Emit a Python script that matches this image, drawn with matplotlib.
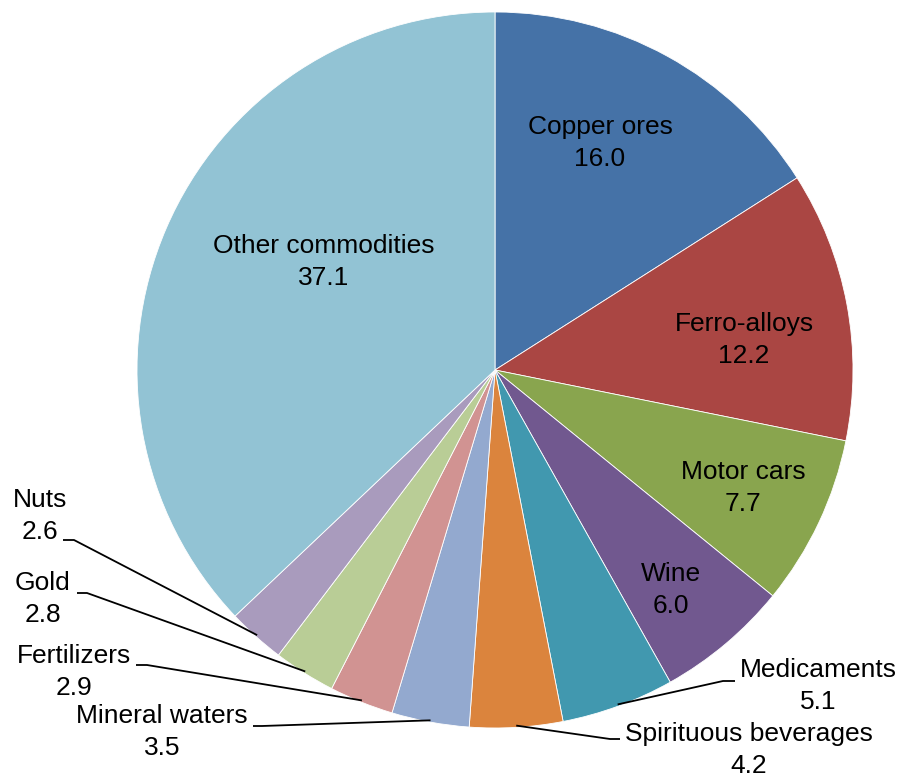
import numpy as np
import matplotlib.pyplot as plt

categories = ['Copper ores', 'Ferro-alloys', 'Motor cars', 'Wine', 'Medicaments',
              'Spirituous beverages', 'Mineral waters', 'Fertilizers', 'Gold',
              'Nuts', 'Other commodities']
shares = [16.0, 12.2, 7.7, 6.0, 5.1, 4.2, 3.5, 2.9, 2.8, 2.6, 37.1]
colors = ['#4572A7', '#AA4643', '#89A54E', '#71588F', '#4198AF', '#DB843D',
          '#93A9CF', '#D19392', '#B9CD96', '#A99BBD', '#92C3D4']

W, H = 899, 776
CX, CY, R = 495, 370, 358


def px(x, y):
    # pixel position in the picture -> data coords of the pie axes
    return (x - CX) / R, (CY - y) / R


plt.rcParams['font.family'] = ['Liberation Sans', 'DejaVu Sans']

fig = plt.figure(figsize=(W / 100, H / 100), dpi=100)
ax = fig.add_axes([0, 0, 1, 1])
wedges, _ = ax.pie(shares, colors=colors, startangle=90, counterclock=False,
                   radius=1, wedgeprops=dict(edgecolor='white', linewidth=0.6))
ax.set_xlim(px(0, 0)[0], px(W, 0)[0])
ax.set_ylim(px(0, H)[1], px(0, 0)[1])
ax.axis('off')

fs = 19
# labels inside the slices (pixel centre of the text block)
inside = {'Copper ores': (600, 143), 'Ferro-alloys': (744, 340),
          'Motor cars': (743, 488), 'Wine': (671, 590),
          'Other commodities': (324, 262)}
# labels outside: text centre, then the short horizontal piece of the leader
outside = {'Nuts': ((40, 516), (63, 540), (74, 540)),
           'Gold': ((43, 599), (77, 593), (87, 593)),
           'Fertilizers': ((74, 672), (136, 665), (147, 665)),
           'Mineral waters': ((162, 732), (253, 726), (262, 726)),
           'Medicaments': ((818, 686), (735, 681), (723, 681)),
           'Spirituous beverages': ((749, 750), (620, 739), (610, 739))}

for name, val, w in zip(categories, shares, wedges):
    label = '%s\n%.1f' % (name, val)
    if name in inside:
        x, y = px(*inside[name])
        ax.text(x, y, label, ha='center', va='center', fontsize=fs,
                linespacing=1.38)
    else:
        t, a, b = outside[name]
        x, y = px(*t)
        ax.text(x, y, label, ha='center', va='center', fontsize=fs,
                linespacing=1.38)
        ang = np.deg2rad((w.theta1 + w.theta2) / 2)
        x0, y0 = 0.995 * np.cos(ang), 0.995 * np.sin(ang)
        xa, ya = px(*a)
        xb, yb = px(*b)
        ax.plot([xa, xb, x0], [ya, yb, y0], color='black', lw=1.3,
                solid_capstyle='butt')

fig.savefig('out.png', dpi=100)
